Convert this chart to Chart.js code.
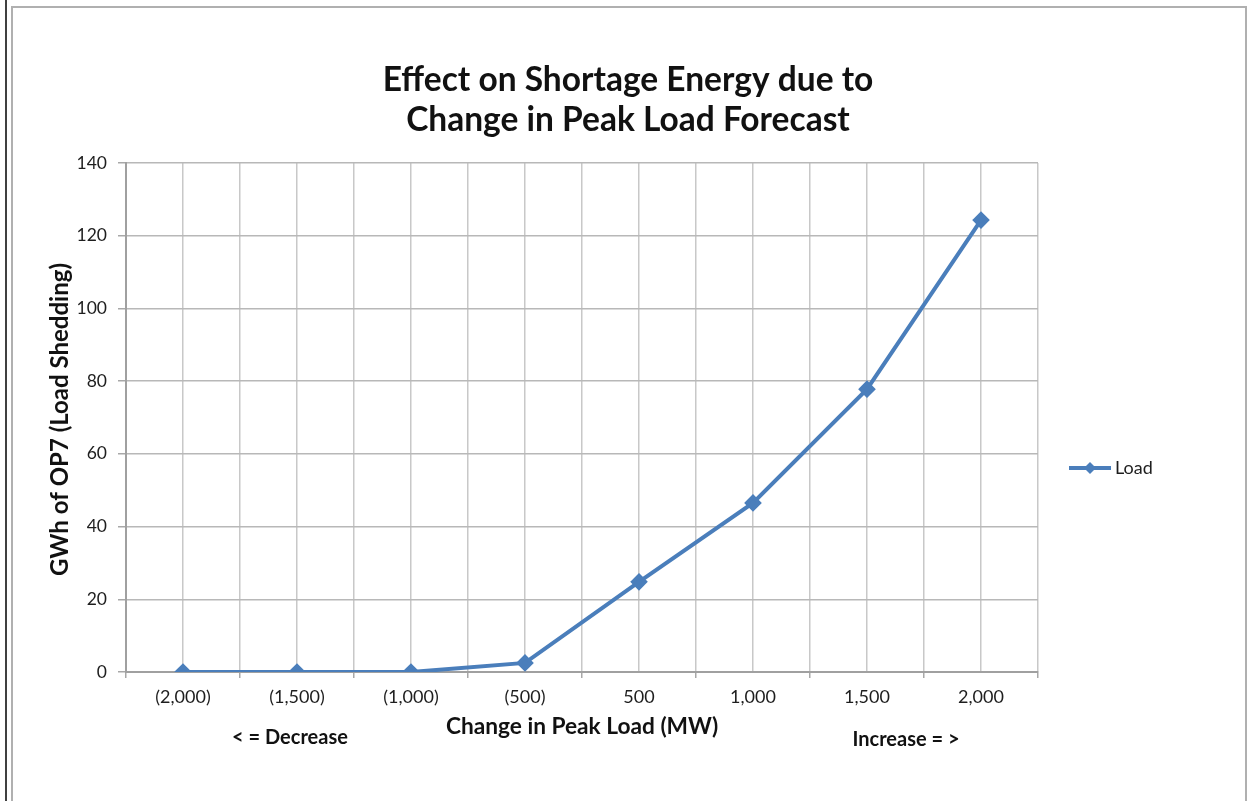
<!DOCTYPE html>
<html>
<head>
<meta charset="utf-8">
<title>Effect on Shortage Energy</title>
<script src="https://cdn.jsdelivr.net/npm/chart.js@4.4.1/dist/chart.umd.min.js"></script>
<style>
  html, body { margin: 0; padding: 0; background: #fff; }
</style>
</head>
<body>
<canvas id="myChart" width="1249" height="801"></canvas>
<script>
// data
var changeLabels = ['(2,000)', '(1,500)', '(1,000)', '(500)', '500', '1,000', '1,500', '2,000'];
var loadValues = [0, 0, 0, 2.5, 24.8, 46.5, 77.8, 124.3];
var seriesName = 'Load';
var yTitle = 'GWh of OP7 (Load Shedding)';
var yMin = 0, yMax = 140, yStep = 20;

var lineBlue = '#4a7ebb';
var textDark = '#1e1e1e';

Chart.defaults.font.family = 'Lato, "Open Sans", sans-serif';
Chart.defaults.color = textDark;

// frame, y title, legend and the two arrow notes
var extras = {
  id: 'extras',
  beforeDraw: function(chart){
    var ctx = chart.ctx;
    ctx.save();
    ctx.fillStyle = '#fff';
    ctx.fillRect(0, 0, chart.width, chart.height);
    ctx.strokeStyle = '#000';
    ctx.lineWidth = 1.5;
    ctx.beginPath(); ctx.moveTo(6, 0); ctx.lineTo(6, chart.height); ctx.stroke();
    ctx.strokeStyle = '#b0b0b0';
    ctx.lineWidth = 2;
    ctx.beginPath();
    ctx.moveTo(12, chart.height + 5); ctx.lineTo(12, 7);
    ctx.lineTo(1246, 7); ctx.lineTo(1246, chart.height + 5);
    ctx.stroke();
    ctx.restore();
  },
  afterDraw: function(chart){
    var ctx = chart.ctx;
    var area = chart.chartArea;
    ctx.save();
    // y axis title
    ctx.save();
    ctx.translate(60, (area.top + area.bottom) / 2 + 2);
    ctx.rotate(-Math.PI / 2);
    ctx.fillStyle = '#111';
    ctx.font = 'bold 24px Lato, sans-serif';
    ctx.textAlign = 'center';
    ctx.textBaseline = 'middle';
    ctx.fillText(yTitle, 0, 0);
    ctx.restore();
    // legend
    var ly = 468;
    ctx.strokeStyle = lineBlue;
    ctx.lineWidth = 4;
    ctx.beginPath(); ctx.moveTo(1069, ly); ctx.lineTo(1111, ly); ctx.stroke();
    ctx.fillStyle = lineBlue;
    ctx.beginPath();
    ctx.moveTo(1090, ly - 6); ctx.lineTo(1096, ly); ctx.lineTo(1090, ly + 6); ctx.lineTo(1084, ly);
    ctx.closePath(); ctx.fill();
    ctx.fillStyle = textDark;
    ctx.font = '18px Lato, sans-serif';
    ctx.textBaseline = 'middle';
    ctx.textAlign = 'left';
    ctx.fillText(seriesName, 1115, ly);
    // notes under the x axis
    ctx.font = 'bold 20px Lato, sans-serif';
    ctx.textAlign = 'center';
    ctx.fillStyle = '#111';
    ctx.fillText('< = Decrease', 290, 738);
    ctx.fillText('Increase = >', 906, 740);
    ctx.restore();
  }
};

var myChart = document.getElementById('myChart');
var loadChart = new Chart(myChart, {
  type: 'line',
  data: {
    labels: changeLabels,
    datasets: [{
      label: seriesName,
      data: loadValues,
      borderColor: lineBlue,
      backgroundColor: lineBlue,
      borderWidth: 4,
      pointStyle: 'rectRot',
      pointRadius: 6,
      pointHoverRadius: 6,
      tension: 0,
      fill: false
    }]
  },
  options: {
    responsive: false,
    animation: false,
    layout: { padding: { top: 10, left: 40, right: 33, bottom: 60 } },
    plugins: {
      legend: { display: false },
      tooltip: { enabled: false },
      title: {
        display: true,
        text: ['Effect on Shortage Energy due to', 'Change in Peak Load Forecast'],
        color: '#111',
        font: { size: 33.5, weight: 'bold', lineHeight: 1.194 },
        padding: { top: 50, bottom: 23 }
      }
    },
    scales: {
      x: {
        type: 'category',
        position: 'bottom',
        offset: true,
        grid: { offset: true, color: '#c8c8c8', lineWidth: 1.5, tickLength: 6, tickColor: '#a8a8a8' },
        border: { color: '#a0a0a0', width: 2 },
        ticks: { font: { size: 18 }, padding: 8, color: textDark, maxRotation: 0 },
        title: {
          display: true,
          text: 'Change in Peak Load (MW)',
          color: '#111',
          font: { size: 22.7, weight: 'bold', lineHeight: 1.2 },
          padding: { top: 0, bottom: 1 }
        },
        afterFit: function(scale){ scale.height = 69; }
      },
      x2: {
        type: 'category',
        position: 'bottom',
        offset: true,
        grid: { offset: false, color: '#c8c8c8', lineWidth: 1.5, drawTicks: false },
        border: { display: false },
        ticks: { display: false },
        afterFit: function(scale){ scale.height = 0; }
      },
      y: {
        min: yMin,
        max: yMax,
        ticks: { stepSize: yStep, font: { size: 17.5 }, padding: 11, color: textDark },
        grid: { color: '#b8b8b8', lineWidth: 1.5, tickLength: 8, tickColor: '#a8a8a8' },
        border: { color: '#a0a0a0', width: 2 },
        afterFit: function(scale){ scale.width = 86; }
      },
      yRight: {
        position: 'right',
        display: true,
        grid: { display: false, drawTicks: false },
        border: { display: false },
        ticks: { display: false },
        afterFit: function(scale){ scale.width = 178; }
      }
    }
  },
  plugins: [extras]
});
</script>
</body>
</html>
